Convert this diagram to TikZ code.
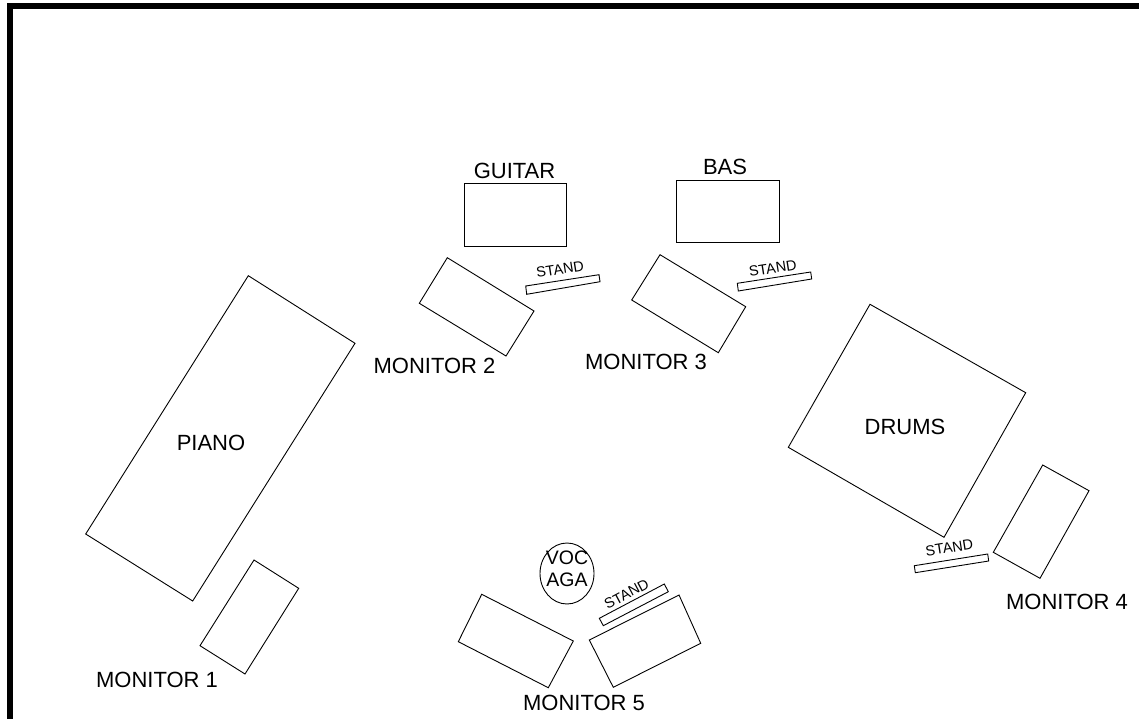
\documentclass[tikz,border=0pt]{standalone}
\usepackage{fontspec}
\setmainfont{Liberation Sans}
\begin{document}
\begin{tikzpicture}[x=1pt,y=-1pt,
  thing/.style={draw=black,line width=0.9pt,line join=miter},
  lbl/.style={inner sep=0pt,font=\fontsize{22}{26}\selectfont},
  standlbl/.style={inner sep=0pt,font=\fontsize{14.5}{16}\selectfont},
  voclbl/.style={inner sep=0pt,align=center,font=\fontsize{19.5}{22}\selectfont}]
\useasboundingbox (0,0) rectangle (1139,719);
% frame
\draw[line width=6pt,line join=miter] (9.5,740) -- (9.5,6) -- (1160,6);
% piano
\draw[thing] (248.3,275.7) -- (355,343.3) -- (192.7,601) -- (85.7,534) -- cycle;
\node[lbl] (piano) at (211,443) {PIANO};
% monitor 1
\draw[thing] (254,560) -- (298.7,588.3) -- (245,674) -- (200,645.7) -- cycle;
\node[lbl] (mon1) at (157,680) {MONITOR 1};
% guitar
\draw[thing] (464,183.3) rectangle (566.7,246);
\node[lbl] (guitar) at (514.5,170.5) {GUITAR};
% bass
\draw[thing] (676,180.7) rectangle (779,242.7);
\node[lbl] (bas) at (725,166.5) {BAS};
% monitor 2
\draw[thing] (447.3,257.7) -- (534,311) -- (506,356) -- (419.3,303.3) -- cycle;
\node[lbl] (mon2) at (434.5,366) {MONITOR 2};
% stand guitar
\draw[thing] (525.7,286) -- (599,274.7) -- (600,281.7) -- (526.7,294.3) -- cycle;
\node[standlbl,rotate=9] (st1) at (560,269.3) {STAND};
% monitor 3
\draw[thing] (660,254.7) -- (745.7,306.7) -- (718.3,352.7) -- (631.7,300) -- cycle;
\node[lbl] (mon3) at (646,362) {MONITOR 3};
% stand bass
\draw[thing] (737.3,283.3) -- (810.7,272) -- (811.7,279) -- (738.3,291) -- cycle;
\node[standlbl,rotate=9] (st2) at (772.7,268.3) {STAND};
% drums
\draw[thing] (870,304.3) -- (1025.7,392.7) -- (944,537.3) -- (788.3,447.3) -- cycle;
\node[lbl] (drums) at (905,427) {DRUMS};
% monitor 4
\draw[thing] (1042.7,465) -- (1089,490.7) -- (1040,578.3) -- (993.3,552.3) -- cycle;
\node[lbl] (mon4) at (1067,601.5) {MONITOR 4};
% stand drums
\draw[thing] (914.3,565.7) -- (987.7,554) -- (988.7,561) -- (915.3,572.7) -- cycle;
\node[standlbl,rotate=9] (st3) at (949.3,547.7) {STAND};
% vocal
\draw[thing] (567,573.5) ellipse [x radius=27, y radius=30.5];
\node[voclbl] (voc) at (567,568.5) {VOC\\AGA};
% monitor 5 left
\draw[thing] (481.7,594.3) -- (573.3,641) -- (548.3,687.7) -- (458.3,641.7) -- cycle;
% monitor 5 right
\draw[thing] (679,595) -- (700.7,643.3) -- (613.3,687.3) -- (589.3,640) -- cycle;
\node[lbl] (mon5) at (584,703) {MONITOR 5};
% stand vocal
\draw[thing] (599.3,618.3) -- (664.3,584) -- (668.3,591.7) -- (603.3,625.7) -- cycle;
\node[standlbl,rotate=28] (st4) at (626.6,594) {STAND};
\end{tikzpicture}
\end{document}
